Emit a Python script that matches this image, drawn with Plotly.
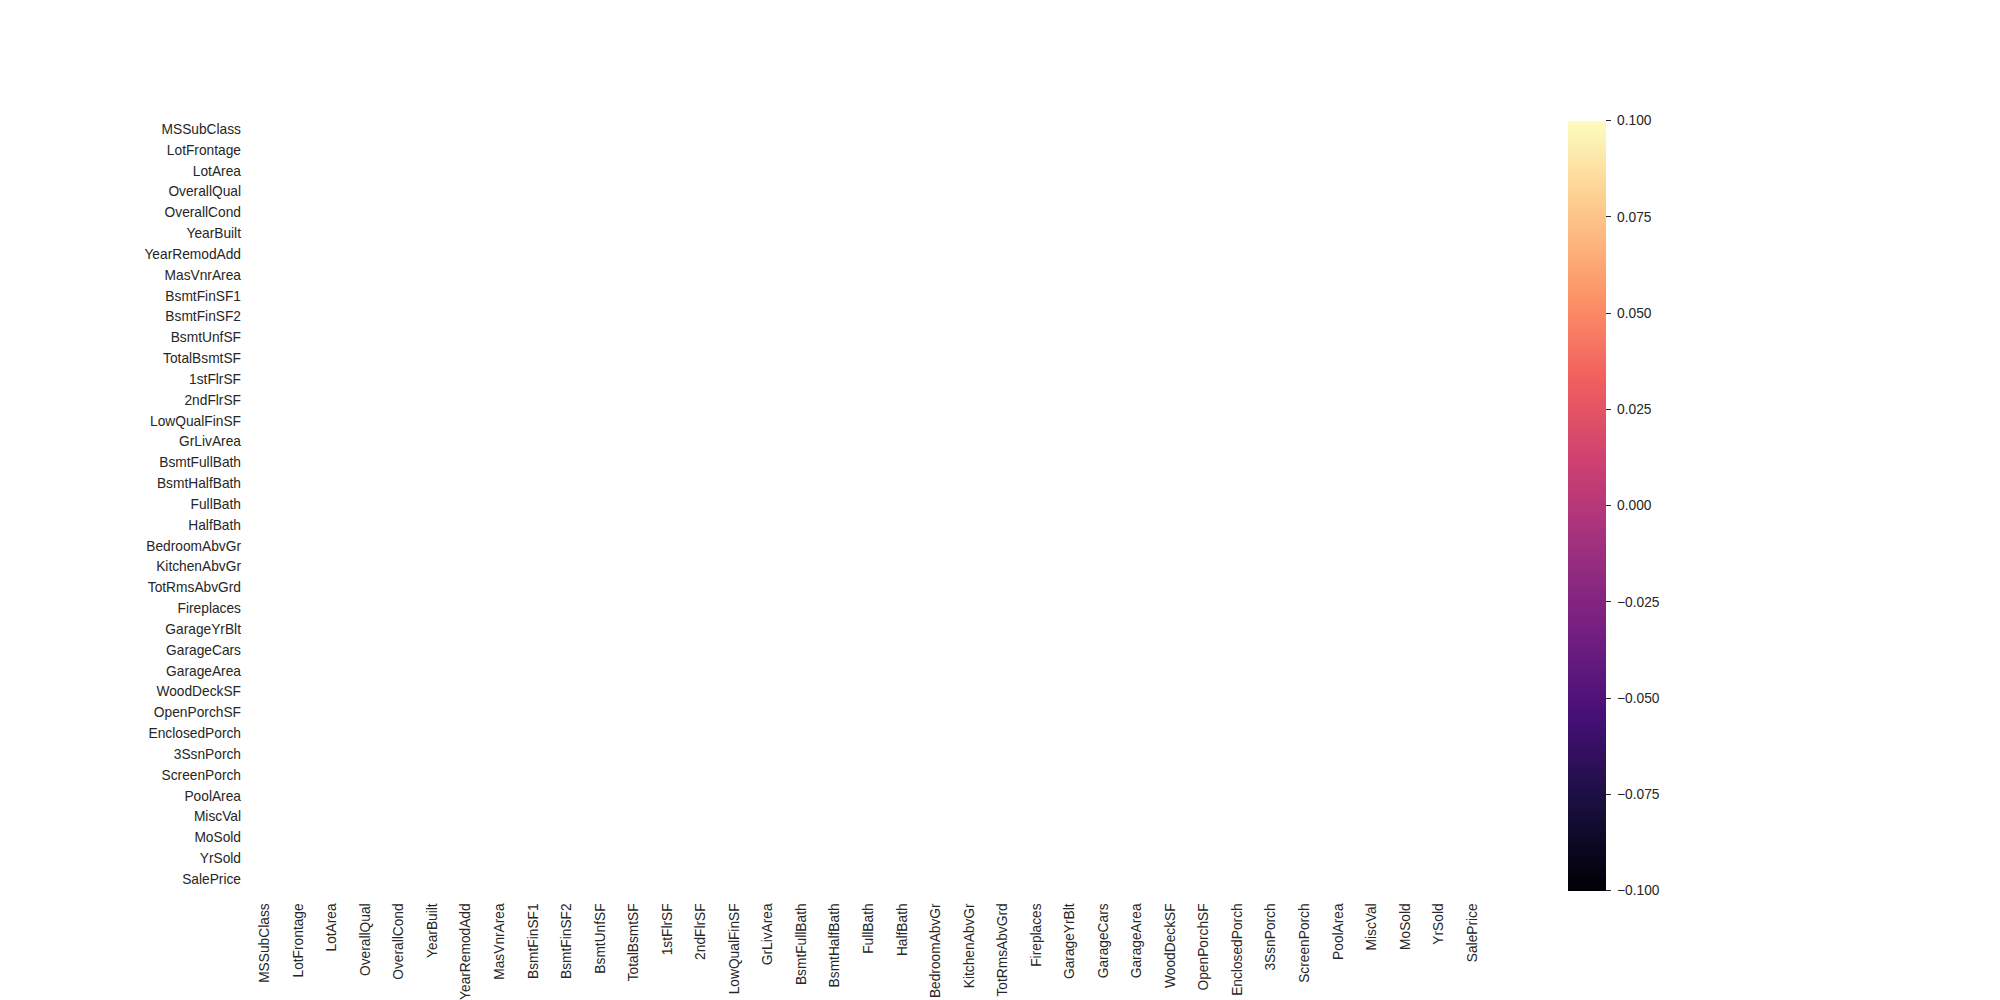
import numpy as np
import plotly.graph_objects as go

features = ["MSSubClass", "LotFrontage", "LotArea", "OverallQual", "OverallCond", "YearBuilt",
            "YearRemodAdd", "MasVnrArea", "BsmtFinSF1", "BsmtFinSF2", "BsmtUnfSF", "TotalBsmtSF",
            "1stFlrSF", "2ndFlrSF", "LowQualFinSF", "GrLivArea", "BsmtFullBath", "BsmtHalfBath",
            "FullBath", "HalfBath", "BedroomAbvGr", "KitchenAbvGr", "TotRmsAbvGrd", "Fireplaces",
            "GarageYrBlt", "GarageCars", "GarageArea", "WoodDeckSF", "OpenPorchSF", "EnclosedPorch",
            "3SsnPorch", "ScreenPorch", "PoolArea", "MiscVal", "MoSold", "YrSold", "SalePrice"]

# All correlation cells are empty (NaN) in the reference
n = len(features)
color_min = -0.1
color_max = 0.1
cbar_ticks = [-0.1, -0.075, -0.05, -0.025, 0.0, 0.025, 0.05, 0.075, 0.1]
cbar_ticktext = ["\u00a0" + f"{v:.3f}".replace("-", "\u2212") for v in cbar_ticks]

font = dict(family="Liberation Sans, Arial, sans-serif", size=13.75, color="#262626")

# empty cells: one invisible marker per cell (no values to colour)
cell_x = [fx for fy in features for fx in features]
cell_y = [fy for fy in features for fx in features]

fig = go.Figure()
fig.add_trace(go.Scatter(
    x=cell_x, y=cell_y, mode="markers",
    marker=dict(size=1, opacity=0, color="white"),
    hoverinfo="skip", showlegend=False,
))
# colour scale legend (range of the empty heatmap)
fig.add_trace(go.Scatter(
    x=[features[0], features[0]], y=[features[0], features[0]], mode="markers",
    marker=dict(size=1, opacity=0, color=[color_min, color_max],
                cmin=color_min, cmax=color_max, colorscale="Magma", showscale=True,
                colorbar=dict(
                    x=1568 / 2000, xanchor="left", xpad=0,
                    y=1 - 120.5 / 1000, yanchor="top", ypad=0,
                    len=0.77, lenmode="fraction",
                    thickness=38, thicknessmode="pixels",
                    outlinewidth=0,
                    ticks="outside", ticklen=5, tickwidth=1, tickcolor="#262626",
                    tickvals=cbar_ticks, ticktext=cbar_ticktext,
                    tickfont=font,
                )),
    hoverinfo="skip", showlegend=False,
))

fig.update_layout(
    width=2000, height=1000,
    margin=dict(l=0, r=0, t=0, b=0),
    paper_bgcolor="white", plot_bgcolor="white",
    font=font,
    xaxis=dict(domain=[248 / 2000, 1489 / 2000], type="category",
               categoryorder="array", categoryarray=features,
               range=[-0.5, n - 0.5],
               showgrid=False, zeroline=False,
               tickangle=-90, ticks="", ticklabelstandoff=10, tickfont=font,
               showline=False),
    yaxis=dict(domain=[1 - 889.6 / 1000, 1 - 118.6 / 1000], type="category",
               categoryorder="array", categoryarray=features,
               range=[n - 0.5, -0.5],
               showgrid=False, zeroline=False,
               ticks="", ticklabelstandoff=6, tickfont=font,
               showline=False),
)

fig.write_html("out.html")
